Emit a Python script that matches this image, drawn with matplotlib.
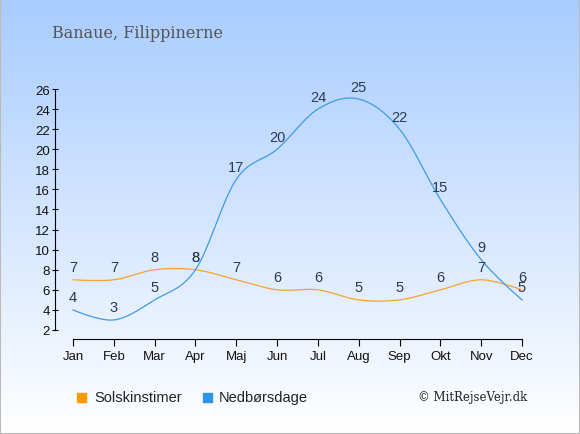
import matplotlib.pyplot as plt
import matplotlib.patches as mpatches
import numpy as np

months = ['Jan', 'Feb', 'Mar', 'Apr', 'Maj', 'Jun', 'Jul', 'Aug', 'Sep', 'Okt', 'Nov', 'Dec']
sun_hours = [7, 7, 8, 8, 7, 6, 6, 5, 5, 6, 7, 6]
rain_days = [4, 3, 5, 8, 17, 20, 24, 25, 22, 15, 9, 5]

sun_color = '#f9a12e'
rain_color = '#3f9be8'
label_color = '#2b3a55'

plt.rcParams['font.family'] = ['Liberation Sans', 'DejaVu Sans']


def spline(xs, ys, n=30):
    # catmull-rom style bezier smoothing
    xs = np.asarray(xs, float)
    ys = np.asarray(ys, float)
    m = len(xs)
    tang = np.zeros(m)
    for i in range(1, m - 1):
        tang[i] = (ys[i + 1] - ys[i - 1]) / 2
    t = np.linspace(0, 1, n)[:, None]
    pts = []
    for i in range(m - 1):
        p0 = np.array([xs[i], ys[i]])
        p3 = np.array([xs[i + 1], ys[i + 1]])
        p1 = np.array([xs[i] + 1 / 3, ys[i] + tang[i] / 3]) if 0 < i else p0
        p2 = np.array([xs[i + 1] - 1 / 3, ys[i + 1] - tang[i + 1] / 3]) if i + 1 < m - 1 else p3
        seg = (1 - t) ** 3 * p0 + 3 * (1 - t) ** 2 * t * p1 + 3 * (1 - t) * t ** 2 * p2 + t ** 3 * p3
        pts.append(seg)
    pts = np.vstack(pts)
    return pts[:, 0], pts[:, 1]


fig = plt.figure(figsize=(5.8, 4.35), dpi=100)

# background gradient
bg = fig.add_axes([0, 0, 1, 1])
top = np.array([0.66, 0.80, 1.0])
bot = np.array([1.0, 1.0, 1.0])
g = np.linspace(0, 1, 256)[:, None]
grad = np.clip(top * (1 - g) + bot * g, 0, 1)
bg.imshow(grad[:, None, :].repeat(2, axis=1), aspect='auto', extent=[0, 1, 0, 1], origin='upper')
bg.axis('off')
fig.patches.append(mpatches.Rectangle((0, 0), 1, 1, transform=fig.transFigure,
                                      fill=False, edgecolor='#bbbbbb', linewidth=1.5))

W, H = 580, 435
ax = fig.add_axes([55 / W, (H - 340) / H, (530 - 55) / W, (340 - 90) / H])
ax.patch.set_alpha(0)
x = np.arange(len(months))
ax.set_xlim(-18 / 40.8, 11 + 8 / 40.8)
ax.set_ylim(2 - 9 / 10.04, 26)

sx, sy = spline(x, sun_hours)
rx, ry = spline(x, rain_days)
ax.plot(sx, sy, color=sun_color, linewidth=0.9, zorder=3)
ax.plot(rx, ry, color=rain_color, linewidth=0.9, zorder=3)

for i in range(len(months)):
    ax.annotate(str(sun_hours[i]), (x[i], sun_hours[i]), xytext=(0, 9),
                textcoords='offset points', ha='center', va='center',
                fontsize=10.5, color=label_color, zorder=4, annotation_clip=False)
    ax.annotate(str(rain_days[i]), (x[i], rain_days[i]), xytext=(0, 9),
                textcoords='offset points', ha='center', va='center',
                fontsize=10.5, color=label_color, zorder=4, annotation_clip=False)

ax.set_xticks(x)
ax.set_xticklabels(months)
ax.set_yticks(range(2, 27, 2))
for s in ['top', 'right']:
    ax.spines[s].set_visible(False)
ax.spines['left'].set_bounds(2, 26)
ax.spines['bottom'].set_bounds(0, 11)
ax.tick_params(axis='y', direction='inout', length=5, labelsize=9.5, pad=1, labelcolor='#111111')
ax.tick_params(axis='x', direction='out', length=5, labelsize=9.5, pad=3, labelcolor='#111111')

# title
fig.text(52 / W, 1 - 33 / H, 'Banaue, Filippinerne', family='DejaVu Serif',
         fontsize=11.5, color='#555555', va='center', ha='left')

# legend
fig.patches.append(mpatches.Rectangle((77 / W, 1 - 403 / H), 9 / W, 9 / H,
                                      transform=fig.transFigure, color='#ff9900'))
fig.text(94 / W, 1 - 398 / H, 'Solskinstimer', fontsize=10.5, color='#222222', va='center')
fig.patches.append(mpatches.Rectangle((203 / W, 1 - 403 / H), 9 / W, 9 / H,
                                      transform=fig.transFigure, color='#2e93e8'))
fig.text(219 / W, 1 - 398 / H, 'Nedbørsdage', fontsize=10.5, color='#222222', va='center')
fig.text(527 / W, 1 - 398 / H, '© MitRejseVejr.dk', family='DejaVu Serif',
         fontsize=8.5, color='#222222', va='center', ha='right')

fig.savefig('out.png', dpi=100)
